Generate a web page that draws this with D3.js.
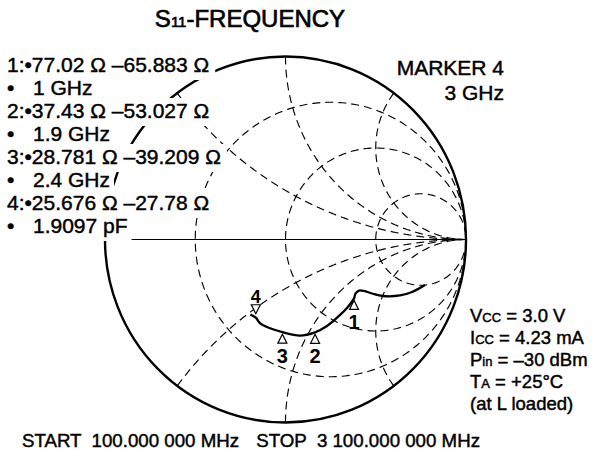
<!DOCTYPE html>
<html>
<head>
<meta charset="utf-8">
<script src="https://cdn.jsdelivr.net/npm/d3@7"></script>
<style>
  html, body { margin: 0; padding: 0; background: #fff; }
  svg { display: block; font-family: "Liberation Sans", Arial, Helvetica, sans-serif; }
  .ink { stroke: #000; stroke-width: 0.45; }
  .ink-heavy { stroke: #000; stroke-width: 0.65; }
</style>
</head>
<body>
<svg id="chart" width="596" height="456"></svg>
<script>
// S11 sweep, 100 MHz to 3.1 GHz, impedance in ohms (50 ohm reference)
const Z0 = 50;
const freqGHz       = [0.1, 0.27, 0.41, 0.6, 0.73, 0.83, 0.89, 0.95, 1.0, 1.21, 1.4, 1.67, 1.9, 2.13, 2.4, 2.71, 2.87, 3.0, 3.1];
const resistanceOhm = [150.3, 124.2, 110.9, 99.9, 95.4, 91.8, 88.1, 82.5, 77.02, 64.7, 55.1, 44.3, 37.43, 32.0, 28.781, 26.3, 25.5, 25.676, 24.9];
const reactanceOhm  = [-219.2, -167.0, -134.6, -100.7, -82.4, -70.6, -65.0, -63.9, -65.883, -65.1, -62.4, -57.9, -53.027, -46.8, -39.209, -33.1, -30.2, -27.78, -25.7];

// marker readouts
const markerIds     = [1, 2, 3, 4];
const markerR       = [77.02, 37.43, 28.781, 25.676];
const markerX       = [-65.883, -53.027, -39.209, -27.78];
const markerSubText = ["1 GHz", "1.9 GHz", "2.4 GHz", "1.9097 pF"];
const activeMarker  = ["MARKER 4", "3 GHz"];

// Smith grid (normalized)
const resistanceCircles = [1 / 3, 1, 3];
const reactanceArcs     = [0.5, 1, 2, -0.5, -1, -2];

// measurement conditions: [main, subscript, rest]
const conditions = [
  ["V", "CC", " = 3.0 V"],
  ["I", "CC", " = 4.23 mA"],
  ["P", "in", " = \u201330 dBm"],
  ["T", "A", " = +25\u00B0C"],
  ["(at L loaded)", "", ""]
];
const sweepStart = "START  100.000 000 MHz";
const sweepStop  = "STOP  3 100.000 000 MHz";

const FONT = '"Liberation Sans", Arial, Helvetica, sans-serif';
const svg = d3.select("#chart");

// text width helper
const ctx = document.createElement("canvas").getContext("2d");
function textWidth(s, size) {
  ctx.font = `${size}px ${FONT}`;
  return ctx.measureText(s).width;
}

// reflection-coefficient plane -> screen
const gx = d3.scaleLinear().domain([-1, 1]).range([105, 466]);
const gy = d3.scaleLinear().domain([-1, 1]).range([422.5, 56.5]);

function gamma(r, x) {
  const den = (r + 1) * (r + 1) + x * x;
  return [(r * r + x * x - 1) / den, (2 * x) / den];
}
const path = d3.line().x(d => gx(d[0])).y(d => gy(d[1]));

const N = 360;
const grid = svg.append("g")
  .attr("fill", "none").attr("stroke", "#000")
  .attr("stroke-width", 1.15).attr("stroke-dasharray", "8,5");

// constant-resistance circles
resistanceCircles.forEach(r => {
  const pts = [[1, 0]];
  for (let i = 1; i < N; i++) {
    const phi = -Math.PI / 2 + Math.PI * i / N;
    pts.push(gamma(r, Math.tan(phi)));
  }
  pts.push([1, 0]);
  grid.append("path").attr("d", path(pts));
});

// constant-reactance arcs
reactanceArcs.forEach(x => {
  const pts = [];
  for (let i = 0; i < N; i++) {
    const phi = (Math.PI / 2) * i / N;
    pts.push(gamma(Math.tan(phi), x));
  }
  pts.push([1, 0]);
  grid.append("path").attr("d", path(pts));
});

// real axis
svg.append("line")
  .attr("x1", gx(-1)).attr("x2", gx(1))
  .attr("y1", gy(0)).attr("y2", gy(0))
  .attr("stroke", "#000").attr("stroke-width", 1.2);

// outer |Γ| = 1 boundary
svg.append("ellipse")
  .attr("cx", gx(0)).attr("cy", gy(0))
  .attr("rx", gx(1) - gx(0)).attr("ry", gy(-1) - gy(0))
  .attr("fill", "none").attr("stroke", "#000").attr("stroke-width", 2.4);

// S11 trace
const tracePts = freqGHz.map((f, i) => gamma(resistanceOhm[i] / Z0, reactanceOhm[i] / Z0));
svg.append("path")
  .attr("d", d3.line().x(d => gx(d[0])).y(d => gy(d[1])).curve(d3.curveCatmullRom.alpha(0.5))(tracePts))
  .attr("fill", "none").attr("stroke", "#000").attr("stroke-width", 2.3)
  .attr("stroke-linejoin", "round");

// markers
const mk = svg.append("g");
markerIds.forEach((id, i) => {
  const g = gamma(markerR[i] / Z0, markerX[i] / Z0);
  const px = gx(g[0]), py = gy(g[1]);
  const up = id !== 4;
  const apex = up ? py + 2 : py - 4;
  const base = up ? apex + 9 : apex - 9;
  mk.append("path")
    .attr("d", `M${px},${apex}L${px - 4.5},${base}L${px + 4.5},${base}Z`)
    .attr("fill", "#fff").attr("stroke", "#000").attr("stroke-width", 1.2);
  mk.append("text")
    .attr("x", px).attr("y", up ? py + 31 : py - 15)
    .attr("text-anchor", "middle")
    .attr("font-size", up ? 20 : 18).attr("font-weight", "bold")
    .text(id);
});

// marker readout block; a white backing hides the chart lines under each line of text
const RS = 21;
const readBg = svg.append("g").attr("fill", "#fff");
const readTx = svg.append("g").attr("font-size", RS).attr("class", "ink");
markerIds.forEach((id, i) => {
  const y1 = 72 + i * 46, y2 = y1 + 23;
  const s1 = `${id}:\u2022${markerR[i]} \u03A9 \u2013${Math.abs(markerX[i])} \u03A9`;
  readTx.append("text").attr("x", 7).attr("y", y1).text(s1);
  const t2 = readTx.append("text").attr("y", y2);
  t2.append("tspan").attr("x", 7).text("\u2022");
  t2.append("tspan").attr("x", 33).text(markerSubText[i]);
  const w1 = 7 + textWidth(s1, RS);
  const w2 = 33 + textWidth(markerSubText[i], RS);
  readBg.append("rect").attr("x", 0).attr("y", y1 - 20).attr("width", w1 + 6).attr("height", 28);
  readBg.append("rect").attr("x", 0).attr("y", y2 - 20).attr("width", w2 + 4).attr("height", 28);
});

// title
const title = svg.append("text").attr("x", 250).attr("y", 27)
  .attr("text-anchor", "middle").attr("font-size", 24).attr("class", "ink-heavy");
title.append("tspan").text("S");
title.append("tspan").attr("font-size", 15).text("11");
title.append("tspan").text("-FREQUENCY");

// active marker
activeMarker.forEach((s, i) => {
  svg.append("text").attr("x", 504).attr("y", 75 + i * 25)
    .attr("text-anchor", "end").attr("font-size", 21).attr("class", "ink").text(s);
});

// conditions
conditions.forEach((c, i) => {
  const t = svg.append("text").attr("x", 470).attr("y", 322 + i * 22)
    .attr("font-size", 18.5).attr("class", "ink");
  t.append("tspan").text(c[0]);
  if (c[1]) t.append("tspan").attr("font-size", 13).text(c[1]);
  if (c[2]) t.append("tspan").text(c[2]);
});

// sweep range
svg.append("text").attr("x", 22).attr("y", 447).attr("font-size", 18.7).attr("class", "ink")
  .style("white-space", "pre").text(sweepStart);
svg.append("text").attr("x", 480).attr("y", 447).attr("font-size", 18.7).attr("class", "ink")
  .attr("text-anchor", "end").style("white-space", "pre").text(sweepStop);
</script>
</body>
</html>
